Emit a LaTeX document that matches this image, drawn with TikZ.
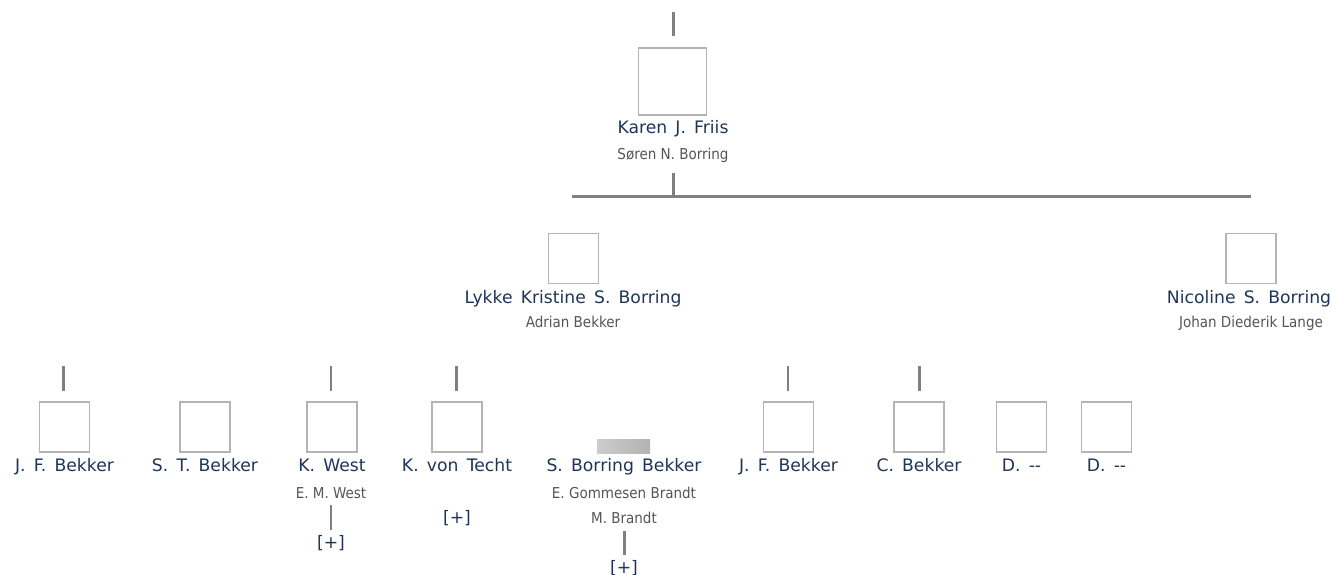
\documentclass[tikz,border=0pt]{standalone}
\usepackage{fontspec}
\setmainfont[WordSpace=1.5]{DejaVu Sans}
\newfontfamily\spousefont{DejaVu Sans Condensed}
\definecolor{namecol}{HTML}{1F3558}
\definecolor{spcol}{HTML}{555555}
\definecolor{linecol}{HTML}{808080}
\definecolor{boxcol}{HTML}{B4B4B4}
\begin{document}
\begin{tikzpicture}[x=1pt,y=-1pt,
  pbox/.style={draw=boxcol,line width=1.6pt,minimum width=50pt,minimum height=50pt,inner sep=0pt},
  pname/.style={text=namecol,font=\fontsize{17.2}{20}\selectfont,inner sep=0pt,anchor=base},
  spouse/.style={text=spcol,font=\spousefont\fontsize{15}{17}\selectfont,inner sep=0pt,anchor=base},
  more/.style={text=namecol,font=\fontsize{17.2}{20}\selectfont,inner sep=0pt,anchor=base},
  thick line/.style={draw=linecol,line width=3pt},
  thin line/.style={draw=linecol,line width=2pt}]
\useasboundingbox (0,0) rectangle (1332,575);
% top
\coordinate (t0) at (673,12); \coordinate (t1) at (673,36);
\draw[thick line] (t0) -- (t1);
\node[pbox,minimum width=68pt,minimum height=67pt] (karen) at (672.5,81.5) {};
\node[pname] (karenN) at (673,134) {Karen J. Friis};
\node[spouse] (karenS) at (673,159) {Søren N. Borring};
\coordinate (k0) at (673,173); \coordinate (k1) at (673,196);
\draw[thick line] (k0) -- (k1);
\coordinate (hL) at (572,196); \coordinate (hR) at (1251,196);
\draw[thick line] (hL) -- (hR);
% second row
\node[pbox] (lykke) at (573.5,258.5) {};
\node[pname] (lykkeN) at (573,303) {Lykke Kristine S. Borring};
\node[spouse] (lykkeS) at (573,327) {Adrian Bekker};
\node[pbox] (nico) at (1251,258.5) {};
\node[pname] (nicoN) at (1249,303) {Nicoline S. Borring};
\node[spouse] (nicoS) at (1251,327) {Johan Diederik Lange};
% third row
\foreach \nm/\x/\lab in {a/64.5/J. F. Bekker, b/205/S. T. Bekker, c/332/K. West, d/457/K. von Techt, f/788.5/J. F. Bekker, g/919/C. Bekker, h/1021.5/D. -{}-, i/1106.5/D. -{}-}{
  \node[pbox] (\nm box) at (\x,427) {};
  \node[pname] (\nm N) at (\x,471) {\lab};
}
\node[pname] (eN) at (624,471) {S. Borring Bekker};
\node[inner sep=0pt,minimum width=53pt,minimum height=14pt,left color=gray!40,right color=gray!60] (photo) at (623.5,446) {};
% stubs above third row
\foreach \x/\w in {63/thick line,331/thin line,456/thick line,788/thin line,919/thick line}{
  \coordinate (s0) at (\x,366); \coordinate (s1) at (\x,391);
  \draw[\w] (s0) -- (s1);
}
% spouses and more
\node[spouse] (cS) at (331,498) {E. M. West};
\coordinate (c0) at (331,505); \coordinate (c1) at (331,530);
\draw[thin line] (c0) -- (c1);
\node[more] (cM) at (331,548) {[+]};
\node[more] (dM) at (457,523) {[+]};
\node[spouse] (eS) at (624,498) {E. Gommesen Brandt};
\node[spouse] (eS2) at (624,523) {M. Brandt};
\coordinate (e0) at (624,531); \coordinate (e1) at (624,555);
\draw[thick line] (e0) -- (e1);
\node[more] (eM) at (624,573) {[+]};
\end{tikzpicture}
\end{document}
